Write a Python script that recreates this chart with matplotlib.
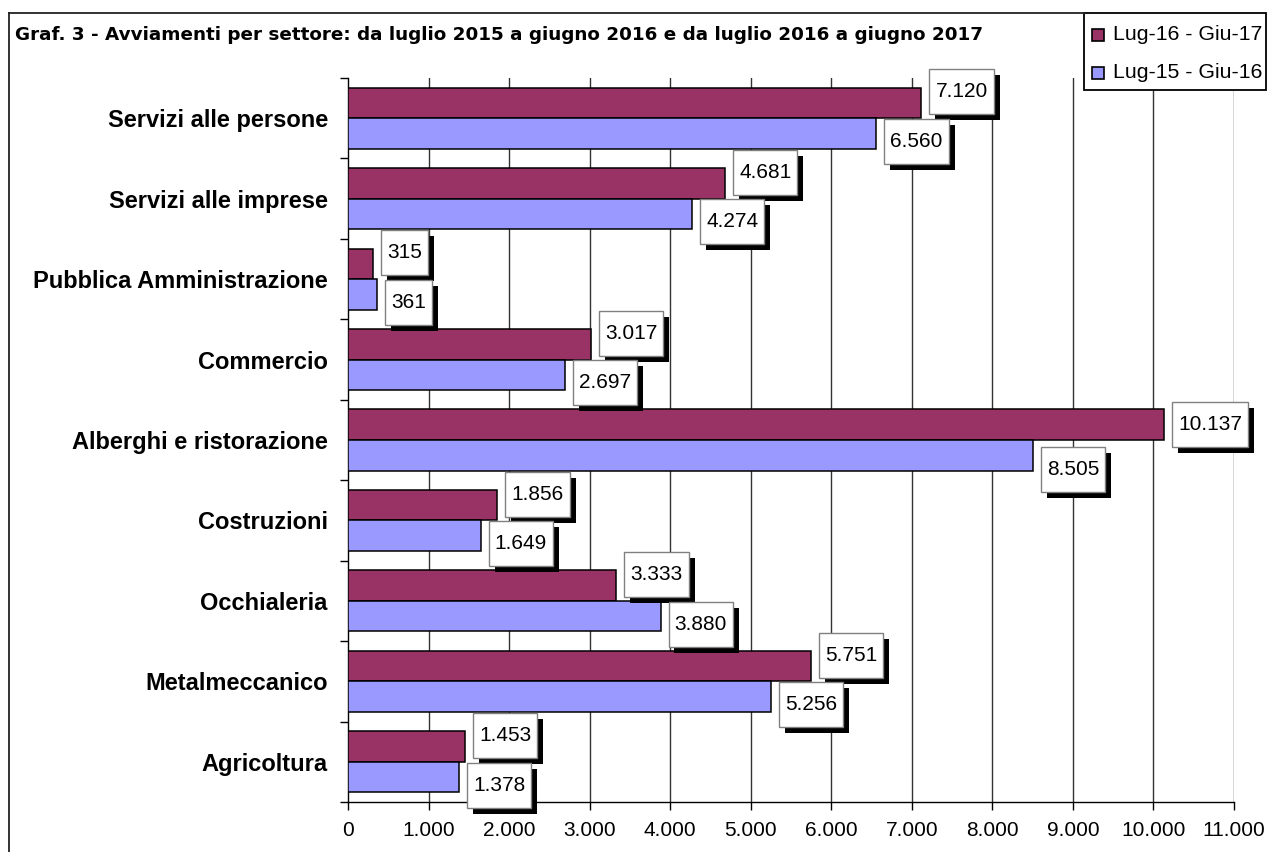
import matplotlib
matplotlib.use("Agg")
import matplotlib.pyplot as plt
import numpy as np
from matplotlib.path import Path
from matplotlib.patches import Rectangle
import matplotlib.patheffects as pe

# ---------------- data ----------------
categories = ["Servizi alle persone", "Servizi alle imprese", "Pubblica Amministrazione",
              "Commercio", "Alberghi e ristorazione", "Costruzioni", "Occhialeria",
              "Metalmeccanico", "Agricoltura"]
series_names = ["Lug-16 - Giu-17", "Lug-15 - Giu-16"]
values_1617 = [7120, 4681, 315, 3017, 10137, 1856, 3333, 5751, 1453]
values_1516 = [6560, 4274, 361, 2697, 8505, 1649, 3880, 5256, 1378]
xticks = list(range(0, 12000, 1000))
title = "Graf. 3 - Avviamenti per settore: da luglio 2015 a giugno 2016 e da luglio 2016 a giugno 2017"

C_MAG = "#993366"
C_BLU = "#9999FF"
FONT = "Liberation Sans"
plt.rcParams['font.family'] = [FONT, 'DejaVu Sans']

W, H = 1268, 852
fig = plt.figure(figsize=(W / 100, H / 100), dpi=100)
ax = fig.add_axes([348 / W, (H - 802) / H, (1234 - 348) / W, (802 - 78) / H])

n = len(categories)
y = np.arange(n)
bh = 0.38
ax.barh(y - bh / 2, values_1617, height=bh, color=C_MAG, edgecolor="black", linewidth=1.1, zorder=3)
ax.barh(y + bh / 2, values_1516, height=bh, color=C_BLU, edgecolor="black", linewidth=1.1, zorder=3)

ax.set_xlim(0, 11000)
ax.set_ylim(n - 0.5, -0.5)

# spines / grid
for s in ["top", "right"]:
    ax.spines[s].set_visible(False)
ax.spines["left"].set_linewidth(1.0)
ax.spines["bottom"].set_linewidth(1.0)
ax.set_xticks(xticks)
ax.set_xticklabels([f"{v:,}".replace(",", ".") for v in xticks], fontsize=15, family=FONT)
ax.tick_params(axis="x", direction="out", length=6, width=1, pad=8)
for v in xticks[1:]:
    ax.axvline(v, color="#333333", linewidth=1.0, zorder=1)

ax.set_yticks(y)
ax.set_yticklabels(categories, fontsize=17, fontweight="bold", family=FONT)
ax.tick_params(axis="y", which="major", length=0, pad=14.5)
ax.set_yticks(np.arange(n + 1) - 0.5, minor=True)
ax.tick_params(axis="y", which="minor", direction="out", length=6, width=1)


# custom label box (display pixels): horizontal pad and fixed height
def label_box(x0, y0, width, height, mutation_size):
    hpad = 6.0
    target_h = 45.0
    vpad = max(0.0, (target_h - height) / 2)
    xa, xb = x0 - hpad, x0 + width + hpad
    ya, yb = y0 - vpad, y0 + height + vpad
    return Path([(xa, ya), (xb, ya), (xb, yb), (xa, yb), (xa, ya)],
                [Path.MOVETO, Path.LINETO, Path.LINETO, Path.LINETO, Path.CLOSEPOLY])


px2pt = 0.72
box_w_units = 800  # approx label width in data units

def add_label(v, yc, dy_px):
    t = ax.annotate(f"{v:,}".replace(",", "."), xy=(v, yc), xytext=(14 * px2pt, -dy_px * px2pt),
                    textcoords="offset points", ha="left", va="center", fontsize=15,
                    family=FONT, zorder=6,
                    bbox=dict(boxstyle=label_box, facecolor="white", edgecolor="#808080",
                              linewidth=1.0))
    t.get_bbox_patch().set_path_effects([
        pe.SimplePatchShadow(offset=(4.3, -4.3), shadow_rgbFace="black", alpha=1.0),
        pe.Normal()])


for i in range(n):
    a, b = values_1617[i], values_1516[i]
    overlap = abs(a - b) < box_w_units
    add_label(a, y[i] - bh / 2, -11 if overlap else 0)
    add_label(b, y[i] + bh / 2, 8 if overlap else 14)

# title
fig.text(15 / W, 1 - 35 / H, title, fontsize=13.2, fontweight="bold",
         family=["DejaVu Sans"], ha="left", va="center")

# figure border (left + top)
fig.add_artist(plt.Line2D([9 / W, 9 / W], [0, 1 - 13 / H], color="#222222", linewidth=1.3))
fig.add_artist(plt.Line2D([9 / W, 1084 / W], [1 - 13 / H, 1 - 13 / H], color="#222222", linewidth=1.3))

# legend
fig.add_artist(Rectangle((1084 / W, 1 - 90 / H), (1266 - 1084) / W, (90 - 13) / H,
                         transform=fig.transFigure, facecolor="white", edgecolor="black",
                         linewidth=1.3))
for k, (name, col, yc) in enumerate(zip(series_names, [C_MAG, C_BLU], [35, 73])):
    fig.add_artist(Rectangle((1092 / W, 1 - (yc + 6) / H), 12 / W, 12 / H,
                             transform=fig.transFigure, facecolor=col, edgecolor="black",
                             linewidth=1.2))
    fig.text(1113 / W, 1 - yc / H, name, fontsize=15.3, family=FONT, ha="left", va="center")

fig.savefig("out.png", dpi=100)
